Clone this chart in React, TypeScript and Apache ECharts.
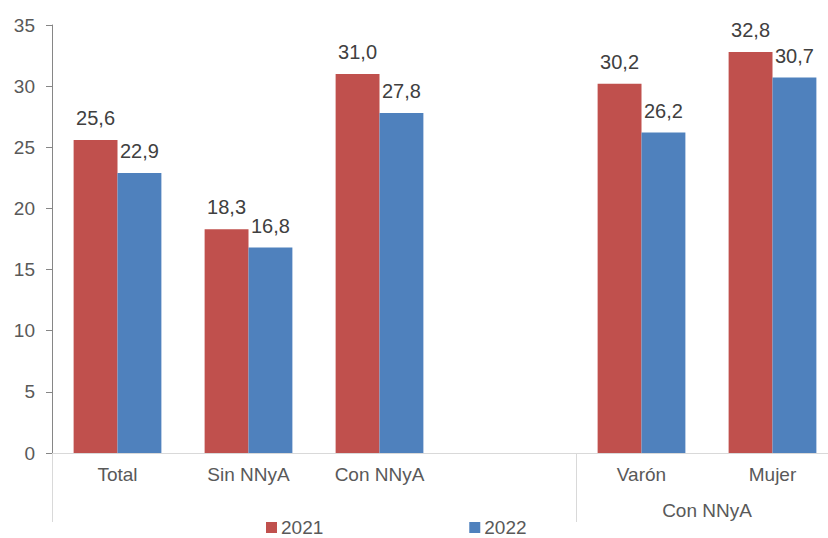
import React, { useEffect, useRef } from "react";
import * as echarts from "echarts";

const categories = ["Total", "Sin NNyA", "Con NNyA", "", "Varón", "Mujer"];
const values2021: (number | null)[] = [25.6, 18.3, 31.0, null, 30.2, 32.8];
const values2022: (number | null)[] = [22.9, 16.8, 27.8, null, 26.2, 30.7];
const seriesNames = ["2021", "2022"];
const groupLabel = "Con NNyA";
const groupMembers = ["Varón", "Mujer"];
const yMin = 0;
const yMax = 35;
const yInterval = 5;

const FONT = "Liberation Sans, Arial, sans-serif";
const fmt = (v: number) => v.toFixed(1).replace(".", ",");

export default function App() {
  const ref = useRef<HTMLDivElement>(null);
  useEffect(() => {
    document.body.style.margin = "0";
    if (!ref.current) return;
    const chart = echarts.init(ref.current, null, { renderer: "svg" });
    const label = {
      show: true,
      position: "top" as const,
      distance: 12,
      color: "#404040",
      fontSize: 20,
      fontFamily: FONT,
      formatter: (p: any) => (p.value == null ? "" : fmt(p.value)),
    };
    chart.setOption({
      animation: false,
      textStyle: { fontFamily: FONT },
      grid: { left: 52, right: 0, top: 25, bottom: 85, containLabel: false },
      legend: {
        data: seriesNames,
        left: 261,
        top: 513,
        itemWidth: 11,
        itemHeight: 11,
        itemGap: 146,
        icon: "rect",
        textStyle: {
          color: "#595959",
          fontSize: 19,
          fontFamily: FONT,
          padding: [0, 0, 0, -1],
        },
      },
      xAxis: {
        type: "category",
        data: categories,
        axisLine: { show: true, lineStyle: { color: "#d9d9d9", width: 1 } },
        axisTick: {
          show: true,
          interval: (i: number) => i === 0 || i === 4,
          length: 69,
          lineStyle: { color: "#d9d9d9", width: 1 },
        },
        axisLabel: { color: "#595959", fontSize: 19, fontFamily: FONT, margin: 12, interval: 0 },
      },
      yAxis: {
        type: "value",
        min: yMin,
        max: yMax,
        interval: yInterval,
        axisLine: { show: true, lineStyle: { color: "#868686" } },
        axisTick: { show: true, length: 6, lineStyle: { color: "#868686" } },
        splitLine: { show: false },
        axisLabel: { color: "#595959", fontSize: 19, fontFamily: FONT, margin: 17 },
      },
      series: [
        {
          name: seriesNames[0],
          type: "bar",
          data: values2021,
          itemStyle: { color: "#C0504D" },
          barGap: "0%",
          barCategoryGap: "33%",
          label,
        },
        {
          name: seriesNames[1],
          type: "bar",
          data: values2022,
          itemStyle: { color: "#4F81BD" },
          barGap: "0%",
          barCategoryGap: "33%",
          label,
        },
      ],
    });
    const xs = groupMembers.map((c) => chart.convertToPixel({ xAxisIndex: 0 }, c) as number);
    const cx = (xs[0] + xs[1]) / 2;
    chart.setOption({
      graphic: [
        {
          type: "text",
          x: cx,
          y: 510,
          style: {
            text: groupLabel,
            fill: "#595959",
            font: `19px ${FONT}`,
            textAlign: "center",
            textVerticalAlign: "middle",
          },
        },
      ],
    });
    return () => chart.dispose();
  }, []);
  return (
    <div style={{ width: 828, height: 538, overflow: "hidden" }}>
      <div ref={ref} style={{ width: 838, height: 538 }} />
    </div>
  );
}
